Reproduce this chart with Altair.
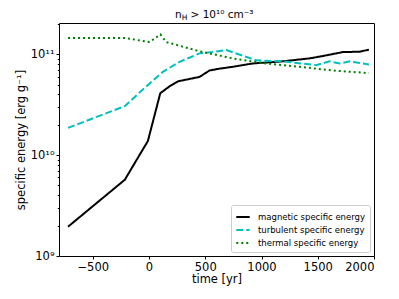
import altair as alt
import pandas as pd

series_names = ["magnetic specific energy", "turbulent specific energy", "thermal specific energy"]

mag_t = [-720, -215, -10, 100, 182, 262, 449, 538, 627, 743, 921, 1188, 1428, 1545, 1722, 1873, 1955]
mag_v = [1.95e9, 5.7e9, 1.38e10, 4.1e10, 4.8e10, 5.4e10, 5.96e10, 6.9e10, 7.2e10, 7.5e10, 8.1e10, 8.5e10, 9.1e10, 9.6e10, 1.05e11, 1.06e11, 1.11e11]

turb_t = [-720, -215, -55, 123, 271, 449, 565, 687, 954, 1190, 1487, 1606, 1695, 1784, 1955]
turb_v = [1.86e10, 3.06e10, 4.47e10, 6.7e10, 8.4e10, 1.02e11, 1.05e11, 1.1e11, 8.7e10, 8.5e10, 7.8e10, 8.5e10, 8.1e10, 8.5e10, 7.9e10]

therm_t = [-720, -215, 4, 102, 153, 449, 743, 1043, 1339, 1635, 1955]
therm_v = [1.45e11, 1.45e11, 1.32e11, 1.57e11, 1.32e11, 1.07e11, 9.1e10, 8.1e10, 7.5e10, 6.9e10, 6.5e10]

x_ticks = [-500, 0, 500, 1000, 1500, 2000]
y_ticks = [1e9, 2e9, 3e9, 4e9, 5e9, 6e9, 7e9, 8e9, 9e9,
           1e10, 2e10, 3e10, 4e10, 5e10, 6e10, 7e10, 8e10, 9e10,
           1e11, 2e11]

rows = []
for name, ts, vs in zip(series_names, [mag_t, turb_t, therm_t], [mag_v, turb_v, therm_v]):
    for i, (t, v) in enumerate(zip(ts, vs)):
        rows.append({"series": name, "time": t, "energy": v, "order": i})
df = pd.DataFrame(rows)

FONT = "DejaVu Sans"
AX = 11.5

legend_kw = dict(title=None, orient="bottom-right", offset=4, symbolType="stroke",
                 symbolSize=180, symbolStrokeWidth=2, labelFontSize=8.5, labelFont=FONT,
                 labelColor="black", strokeColor="#cccccc", fillColor="white",
                 padding=4, cornerRadius=2, rowPadding=0, labelOffset=7)

lines = alt.Chart(df).mark_line(strokeWidth=2, clip=True).encode(
    x=alt.X("time:Q", scale=alt.Scale(domain=[-800, 2000], nice=False, zero=False),
            axis=alt.Axis(values=x_ticks, title="time [yr]", grid=False, tickSize=3,
                          labelExpr="datum.value < 0 ? '\u2212' + abs(datum.value) : datum.label",
                          format="d", labelFontSize=AX, titleFontSize=AX, labelPadding=2,
                          titlePadding=1, labelFont=FONT, titleFont=FONT,
                          domain=False, tickColor="black", labelColor="black", titleColor="black",
                          titleFontWeight="normal")),
    y=alt.Y("energy:Q", scale=alt.Scale(type="log", domain=[1e9, 2.04e11], nice=False),
            axis=alt.Axis(values=y_ticks, title="specific energy [erg g\u207b\u00b9]", grid=False,
                          tickSize={"condition": {"test": "indexof([1e9, 1e10, 1e11], datum.value) >= 0", "value": 3}, "value": 1.7},
                          labelExpr="datum.value == 1e9 ? '10\u2079' : datum.value == 1e10 ? '10\u00b9\u2070' : datum.value == 1e11 ? '10\u00b9\u00b9' : ''",
                          labelFontSize=AX, titleFontSize=AX, labelPadding=2, titlePadding=4,
                          labelFont=FONT, titleFont=FONT, domain=False, tickColor="black",
                          labelColor="black", titleColor="black", titleFontWeight="normal")),
    color=alt.Color("series:N", scale=alt.Scale(domain=series_names, range=["#000000", "#00bfbf", "#008000"]),
                    legend=alt.Legend(**legend_kw)),
    strokeDash=alt.StrokeDash("series:N", scale=alt.Scale(domain=series_names, range=[[1, 0], [7, 3], [2, 3]]),
                              legend=alt.Legend(**legend_kw)),
    order="order:O",
)

t1 = alt.Chart().mark_text(text="n", align="left", baseline="alphabetic", fontSize=10.5, font=FONT, color="black").encode(
    x=alt.value(116), y=alt.value(-5))
t2 = alt.Chart().mark_text(text="H", align="left", baseline="alphabetic", fontSize=7.5, font=FONT, color="black").encode(
    x=alt.value(122.8), y=alt.value(-3))
t3 = alt.Chart().mark_text(text="> 10\u00b9\u2070 cm\u207b\u00b3", align="left", baseline="alphabetic", fontSize=10.5, font=FONT, color="black").encode(
    x=alt.value(131.5), y=alt.value(-5))

chart = alt.layer(lines, t1, t2, t3).properties(
    width=315, height=233,
    autosize=alt.AutoSizeParams(type="none"),
    padding={"left": 51, "top": 15, "right": 10, "bottom": 30},
).configure_view(stroke="black", strokeWidth=1)

chart.save("out.html", embed_options={"renderer": "svg", "actions": False})
